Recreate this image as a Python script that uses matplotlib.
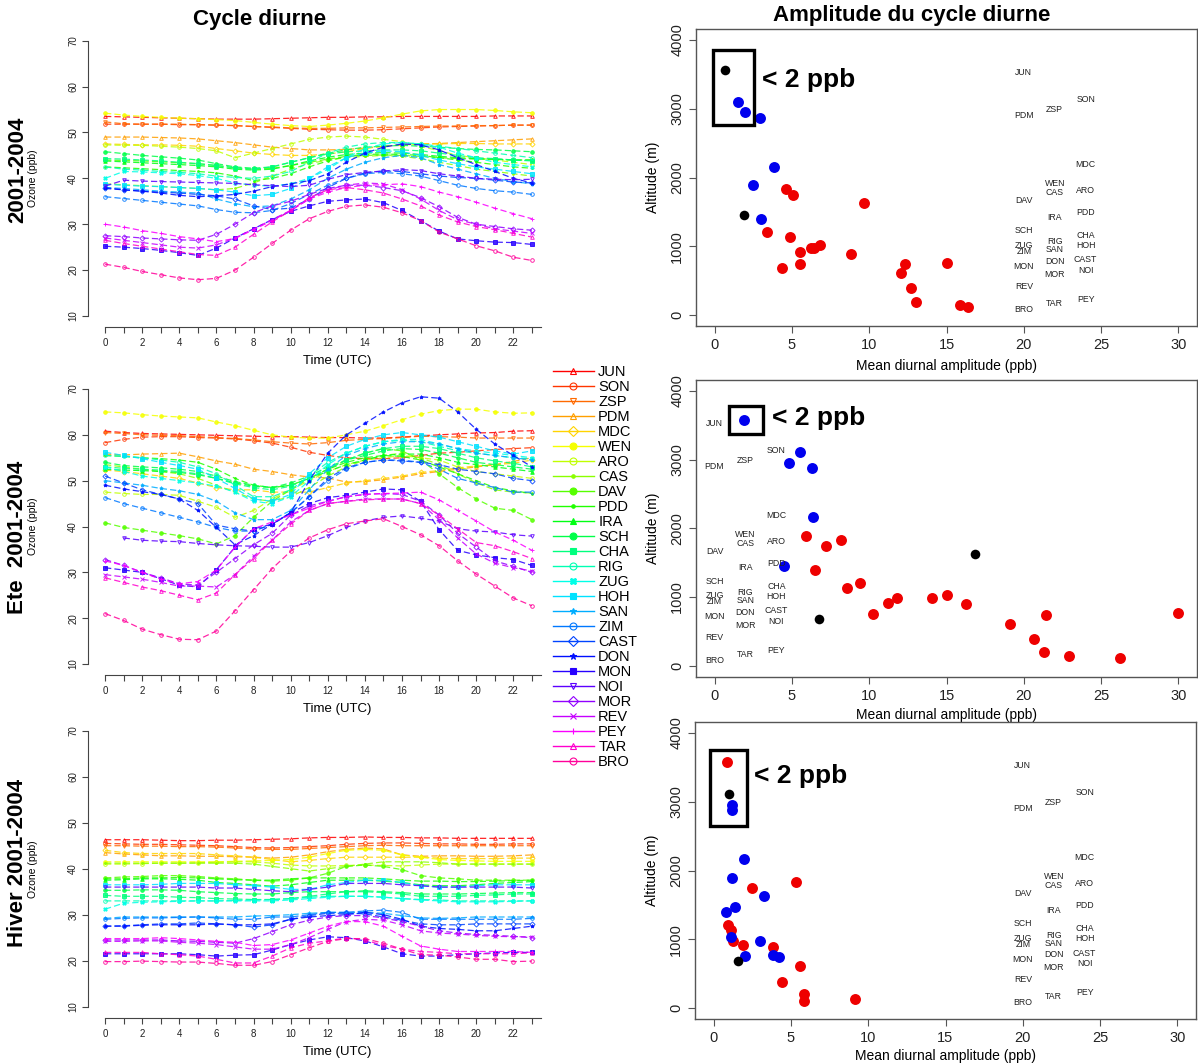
import colorsys
import numpy as np
import matplotlib
matplotlib.use("Agg")
import matplotlib.pyplot as plt
from matplotlib.lines import Line2D
from matplotlib.patches import Rectangle

plt.rcParams['font.family'] = ['Liberation Sans', 'DejaVu Sans']

stations = ['JUN', 'SON', 'ZSP', 'PDM', 'MDC', 'WEN', 'ARO', 'CAS', 'DAV',
            'PDD', 'IRA', 'SCH', 'CHA', 'RIG', 'ZUG', 'HOH', 'SAN', 'ZIM',
            'CAST', 'DON', 'MON', 'NOI', 'MOR', 'REV', 'PEY', 'TAR', 'BRO']
hours = np.arange(24)
nan = np.nan

# mean diurnal cycles (ppb), one row per station, hours 0..23
o3_annual = [
    [53.5,53.4,53.3,53.2,53.1,53.0, 52.9,52.9,52.9,53.0,53.1,53.2, 53.3,53.3,53.4,53.4,53.5,53.5, 53.5,53.5,53.5,53.6,53.6,53.6],
    [51.8,51.8,51.8,51.8,51.7,51.7, 51.6,51.5,51.3,51.1,50.9,50.7, 50.6,50.5,50.5,50.6,50.8,51.0, 51.2,51.3,51.4,51.5,51.6,51.6],
    [52.3,51.9,51.8,51.8,51.8,51.7, 51.6,51.5,51.3,51.2,51.0,50.9, 50.9,51.0,51.0,51.1,51.2,51.3, 51.4,51.4,51.5,51.5,51.6,51.6],
    [49.0,49.0,49.0,48.9,48.8,48.6, 48.2,47.8,47.3,46.8,46.5,46.2, 46.2,46.3,46.6,47.0,47.3,47.5, 47.6,47.8,48.0,48.2,48.4,48.6],
    [47.5,47.4,47.3,47.3,47.2,47.0, 46.5,46.0,45.5,45.2,45.0,45.0, 45.3,45.8,46.5,47.0,47.3,47.5, 47.5,47.6,47.6,47.5,47.5,47.5],
    [54.2,53.8,53.5,53.3,53.1,53.0, 52.8,52.6,52.2,51.8,51.5,51.3, 51.6,52.0,52.5,53.2,54.0,54.7, 55.0,55.0,55.0,54.8,54.5,54.3],
    [47.3,47.2,47.2,47.0,46.8,46.5, 46.0,44.5,45.5,46.5,47.5,48.5, 49.0,49.2,49.0,48.5,48.0,47.0, 46.0,45.0,44.5,44.0,43.5,43.0],
    [38.8,38.6,38.4,38.2,38.0,37.8, 37.5,37.8,39.0,40.5,42.0,43.2, 44.0,44.5,44.8,45.0,44.8,44.3, 43.5,42.8,42.0,41.5,41.0,40.5],
    [44.0,43.9,43.8,43.6,43.4,43.2, 42.8,42.3,42.0,42.2,42.8,43.5, 44.2,44.8,45.0,45.1,45.0,44.8, 44.5,44.3,44.2,44.1,44.0,44.0],
    [42.5,42.3,42.1,41.9,41.7,41.5, 41.2,40.5,39.5,40.0,41.0,42.5, 43.8,44.8,45.2,45.3,45.2,45.0, 44.5,44.0,43.5,43.0,42.5,42.2],
    [43.8,43.6,43.4,43.2,43.0,42.8, 42.5,42.0,41.8,42.0,42.8,43.8, 44.6,45.2,45.5,45.6,45.5,45.2, 44.8,44.5,44.3,44.2,44.0,44.0],
    [45.8,45.4,45.0,44.7,44.4,44.0, 43.2,42.5,42.2,42.5,43.5,44.5, 45.5,46.2,46.8,47.0,47.2,47.0, 46.8,46.5,46.3,46.2,46.0,45.8],
    [44.3,44.2,44.0,43.8,43.5,43.2, 42.8,42.3,42.0,42.5,43.5,44.5, 45.3,45.8,46.0,46.2,46.2,46.0, 45.5,45.0,44.5,44.3,44.0,43.8],
    [42.5,42.0,41.8,41.5,41.3,41.0, 40.5,40.2,40.0,40.5,41.5,43.5, 45.5,46.8,47.5,47.8,47.8,47.5, 47.0,46.5,46.0,45.5,45.0,44.5],
    [40.0,41.5,41.4,41.2,41.0,40.6, 40.0,39.0,38.5,38.3,38.8,40.0, 42.0,44.5,46.5,47.5,47.8,47.5, 46.8,45.5,44.5,43.5,43.0,42.5],
    [38.7,38.5,38.3,38.2,38.0,37.8, 37.5,37.0,36.2,36.5,37.8,40.0, 42.5,44.5,45.5,46.0,45.8,45.0, 44.0,43.2,42.5,42.0,41.5,41.0],
    [38.0,37.8,37.5,37.2,37.0,36.8, 35.5,34.5,33.8,34.0,35.5,37.5, 40.0,42.0,43.5,44.5,45.0,44.5, 43.0,42.0,41.0,40.0,39.3,38.8],
    [36.0,35.6,35.2,34.8,34.4,34.0, 33.2,32.6,32.5,33.0,34.5,36.5, 38.5,40.0,41.0,41.3,41.0,40.5, 39.5,38.5,37.8,37.3,37.0,36.5],
    [38.0,37.5,37.2,37.0,36.8,36.5, 36.2,35.5,34.0,33.2,33.5,35.5, 38.0,40.0,41.2,41.6,41.5,41.0, 40.5,40.2,40.0,39.6,39.2,39.0],
    [37.8,37.5,37.2,36.8,36.3,36.0, 36.2,36.5,37.2,38.2,38.8,39.5, 41.0,43.5,45.5,46.8,47.5,47.3, 46.2,44.5,43.0,41.5,40.0,39.0],
    [25.2,25.0,24.7,24.3,23.8,23.2, 24.8,27.0,29.0,31.0,32.8,34.0, 35.0,35.3,35.5,34.7,33.0,30.8, 28.5,26.8,26.4,26.1,26.0,25.6],
    [38.3,39.6,39.4,39.3,39.2,39.1, 39.0,38.9,38.6,38.4,38.2,38.5, 39.8,40.8,41.3,41.6,41.9,41.7, 41.0,40.5,40.0,39.8,39.7,39.8],
    [27.5,27.3,27.0,26.8,26.6,26.5, 27.8,30.0,32.5,34.0,35.0,36.5, 37.8,38.5,38.5,38.0,37.3,35.8, 33.8,31.5,30.0,29.5,29.0,28.7],
    [27.0,26.5,26.0,25.5,25.0,24.8, 25.5,27.0,29.0,31.0,33.0,35.5, 37.5,38.5,39.0,38.8,37.5,35.5, 33.0,31.0,30.0,29.0,28.5,28.0],
    [30.0,29.4,28.6,28.0,27.3,26.8, 26.2,26.9,28.8,30.8,33.0,35.5, 37.0,38.0,38.5,38.6,38.8,38.2, 37.0,36.0,34.8,33.5,32.3,31.2],
    [26.5,25.8,25.2,24.6,24.0,23.4, 23.2,25.0,27.8,30.5,33.0,35.8, 37.5,38.0,37.5,36.8,35.5,34.0, 32.0,30.5,29.5,28.8,28.0,27.2],
    [21.3,20.6,19.7,19.0,18.3,17.9, 18.2,20.0,22.8,25.8,28.7,31.2, 32.8,33.9,34.2,33.7,32.5,30.8, 28.3,26.8,25.3,24.2,22.8,22.1],
]

o3_summer = [
    [60.8,60.5,60.3,60.2,60.1,60.0, 59.9,59.8,59.7,59.6,59.6,59.5, 59.4,59.4,59.3,59.3,59.5,59.8, 60.0,60.2,60.4,60.5,60.8,60.9],
    [58.3,59.0,59.5,59.6,59.6,59.4, 59.3,59.1,58.7,58.2,57.3,56.2, 55.5,55.0,54.8,54.8,55.0,55.5, 56.0,56.2,56.5,56.8,57.0,57.2],
    [60.5,60.3,60.0,59.9,59.8,59.6, 59.4,59.2,58.9,58.5,58.2,58.0, 58.3,58.8,59.0,59.2,59.4,59.7, 59.6,59.5,59.3,59.3,59.3,59.3],
    [55.8,55.6,55.8,55.9,56.0,55.2, 54.3,53.6,52.5,52.0,51.3,50.8, 50.6,49.7,49.8,50.2,50.8,51.5, 52.0,52.5,53.0,53.5,54.2,55.0],
    [52.3,52.0,51.5,51.0,50.5,49.5, 48.5,48.0,48.0,47.5,47.5,47.5, 48.5,49.5,50.0,50.5,51.0,51.8, 52.2,52.8,53.2,53.5,53.8,54.5],
    [65.0,64.8,64.4,64.1,63.9,63.7, 62.8,62.0,61.0,60.0,59.5,59.3, 59.3,60.0,60.8,62.0,63.3,64.5, 65.3,65.6,65.6,65.0,64.7,64.8],
    [47.5,47.2,47.0,47.0,46.8,45.5, 44.2,42.0,43.5,46.0,48.0,50.0, 52.0,53.5,54.5,55.0,55.5,55.0, 54.5,53.0,52.0,51.5,51.0,50.5],
    [53.5,53.0,52.5,52.0,51.5,50.5, 49.0,47.5,46.0,45.5,46.5,48.5, 51.0,53.0,54.5,55.5,56.0,55.0, 53.5,51.5,49.5,48.0,47.5,47.3],
    [40.8,39.8,39.2,38.6,38.0,37.3, 36.2,38.0,42.0,45.5,48.0,50.5, 52.5,54.5,56.0,57.0,56.5,54.5, 51.5,48.5,46.0,44.0,43.5,41.5],
    [55.5,55.3,55.0,54.8,54.5,54.0, 52.5,50.5,49.0,48.5,49.0,50.5, 52.5,54.0,55.0,55.5,55.3,54.5, 53.0,51.5,50.0,48.5,47.8,47.2],
    [52.5,52.3,52.2,52.0,51.8,51.3, 50.5,49.5,48.8,48.5,49.0,50.5, 52.0,53.5,54.5,55.5,55.8,55.8, 55.0,54.0,53.5,53.0,52.5,52.0],
    [54.0,53.3,53.0,52.8,52.5,52.0, 51.0,49.8,49.0,48.5,49.5,51.0, 53.0,54.5,55.5,56.5,57.0,56.8, 56.0,55.0,54.0,53.5,53.0,52.5],
    [53.0,52.7,52.5,52.3,52.0,51.5, 50.5,49.3,48.5,48.0,48.8,50.5, 52.5,54.5,56.0,57.0,57.5,57.5, 57.0,56.0,55.0,54.3,53.8,53.0],
    [55.5,55.3,55.0,54.5,54.0,53.0, 51.5,49.0,46.5,46.5,48.0,51.0, 54.0,56.0,57.5,58.5,58.8,58.5, 57.5,56.5,56.0,55.5,55.0,54.8],
    [53.0,52.0,51.0,50.5,50.0,49.5, 48.8,47.5,45.5,45.0,46.5,50.0, 53.5,56.0,57.5,58.5,59.0,59.0, 58.0,57.0,56.5,56.0,55.5,55.0],
    [56.2,55.5,54.8,54.0,53.3,52.5, 50.5,48.3,46.0,45.5,47.0,51.5, 55.0,57.5,59.0,60.0,60.5,60.0, 59.5,58.5,57.5,56.5,55.8,56.5],
    [50.0,49.5,49.0,48.3,47.8,47.0, 45.5,43.0,41.5,41.5,43.5,48.0, 52.5,55.5,57.0,58.0,58.5,58.5, 58.0,57.0,56.0,55.5,55.0,54.5],
    [46.3,45.0,44.0,43.0,42.0,41.0, 39.8,39.0,39.0,40.5,43.0,46.5, 50.0,52.5,54.0,54.5,54.5,54.0, 52.5,50.5,49.5,48.5,47.5,47.5],
    [51.0,49.5,48.0,47.0,46.0,45.0, 40.3,39.5,39.0,40.5,43.0,46.5, 50.5,52.8,54.0,54.5,54.3,54.0, 53.5,52.5,52.0,51.5,50.5,50.0],
    [49.0,48.2,47.6,47.0,46.0,43.5, 39.8,36.0,38.0,40.5,43.0,50.0, 56.0,60.0,62.5,65.0,67.0,68.3, 68.0,65.0,61.2,58.0,55.5,53.0],
    [31.0,30.5,30.0,28.6,27.2,26.8, 30.6,35.5,39.5,40.5,43.0,45.0, 46.3,46.8,47.5,48.2,48.0,45.5, 39.3,34.8,33.8,33.2,32.8,31.5],
    [nan, 37.5,37.0,36.8,36.7,36.3, 36.0,35.8,35.7,35.5,35.5,36.5, 38.0,39.8,41.2,42.0,42.3,41.8, 41.2,39.5,39.0,38.8,38.2,37.9],
    [32.8,31.5,30.0,28.8,27.5,27.2, 30.0,33.0,36.0,38.5,42.5,44.5, 45.5,46.5,47.0,47.2,47.0,45.5, 42.5,38.5,35.5,32.5,31.3,30.0],
    [29.5,29.0,28.5,27.8,27.0,27.0, 26.8,29.5,33.5,37.0,41.0,43.5, 45.0,45.5,46.0,46.0,46.0,45.0, 41.5,37.5,34.0,32.0,31.0,30.3],
    [32.5,31.5,30.0,28.5,27.5,28.0, 30.5,35.5,39.5,41.0,42.5,44.0, 45.5,46.5,47.0,47.2,47.3,47.5, 45.8,43.5,41.2,38.8,37.0,34.8],
    [28.8,27.8,26.8,26.0,25.0,24.0, 25.5,29.5,33.0,37.0,40.5,43.5, 45.0,45.5,45.8,46.0,46.0,45.0, 42.5,39.5,36.5,35.8,34.5,33.0],
    [21.0,19.5,17.6,16.4,15.4,15.3, 17.2,21.6,26.2,30.8,34.6,37.5, 39.3,40.6,41.2,41.7,40.0,38.2, 35.8,32.5,29.6,27.0,24.4,22.7],
]

o3_winter = [
    [46.3,46.3,46.3,46.2,46.1,46.1, 46.2,46.2,46.3,46.4,46.5,46.7, 46.8,46.8,46.9,46.8,46.8,46.7, 46.7,46.6,46.6,46.6,46.6,46.6],
    [45.5,45.4,45.3,45.3,45.2,45.1, 45.0,44.8,44.6,44.5,44.6,44.8, 45.0,45.3,45.5,45.6,45.6,45.5, 45.4,45.4,45.3,45.3,45.4,45.4],
    [45.0,45.0,44.9,44.9,44.8,44.8, 44.7,44.5,44.3,44.2,44.2,44.4, 44.6,44.8,45.0,45.1,45.0,45.0, 45.0,45.0,45.0,45.0,45.0,45.0],
    [43.5,43.2,43.0,42.8,42.8,42.7, 42.7,42.6,42.5,42.3,42.5,43.0, 43.7,44.2,44.5,44.3,43.0,42.7, 42.8,42.8,42.7,42.7,42.8,43.0],
    [44.0,43.5,43.3,43.3,43.3,43.3, 43.0,42.8,42.5,42.0,41.5,41.8, 42.2,42.5,42.5,42.5,42.5,42.5, 42.3,42.2,42.2,42.2,42.3,42.3],
    [41.5,41.5,41.5,41.5,41.5,41.5, 41.5,41.6,41.7,41.8,42.0,42.5, 43.3,44.0,44.2,44.0,43.0,42.5, 42.0,41.8,41.7,41.6,41.6,41.6],
    [41.0,41.0,41.1,41.2,41.2,41.3, 41.4,41.5,41.5,41.2,40.8,40.6, 40.6,40.7,40.8,40.7,40.6,40.8, 41.0,41.0,41.0,41.0,41.0,41.0],
    [41.2,41.2,41.2,41.2,41.2,41.2, 41.2,41.2,41.0,40.5,40.0,39.5, 40.0,40.5,41.0,41.5,41.5,41.5, 41.3,41.0,41.0,41.0,41.0,41.0],
    [38.0,38.2,38.3,38.5,38.5,38.3, 38.0,37.8,37.5,37.3,37.5,38.0, 39.0,40.5,40.8,40.5,39.8,38.5, 38.0,37.8,37.5,37.5,37.5,37.5],
    [37.8,37.8,38.0,38.0,38.1,38.0, 37.8,37.6,37.5,37.5,37.8,38.0, 38.0,38.0,38.0,37.8,37.5,37.3, 37.3,37.2,37.2,37.3,37.4,37.5],
    [37.5,37.6,37.8,37.8,37.7,37.5, 37.0,36.8,36.5,36.2,36.5,37.0, 37.5,37.5,37.5,37.3,37.0,36.5, 36.3,36.3,36.5,36.8,37.0,37.2],
    [35.3,35.3,35.4,35.4,35.3,35.0, 34.8,34.6,34.5,34.5,34.8,35.0, 35.0,35.0,35.2,35.0,34.8,34.5, 34.5,34.5,34.6,34.7,34.8,34.8],
    [34.2,34.0,34.0,34.0,33.8,33.7, 33.5,33.4,33.3,33.3,33.5,34.0, 34.5,35.0,35.0,34.8,34.5,34.0, 34.0,34.0,34.2,34.3,34.5,34.5],
    [33.0,33.0,33.0,33.0,33.0,33.0, 33.0,33.1,33.2,33.3,33.5,33.8, 34.0,34.0,34.0,33.8,33.5,33.3, 33.2,33.0,33.0,33.0,33.0,33.0],
    [31.2,32.5,32.7,32.8,32.9,33.0, 33.0,33.0,33.0,33.0,33.2,33.5, 33.8,34.0,34.0,33.8,33.5,33.2, 33.0,32.8,32.8,32.8,32.9,33.0],
    [36.5,36.5,36.5,36.6,36.8,36.8, 36.8,36.5,36.3,36.0,35.5,35.5, 36.5,37.0,37.5,37.5,37.0,36.3, 36.0,36.0,36.3,36.5,36.5,36.5],
    [29.2,29.5,29.5,29.5,29.5,29.5, 29.5,29.5,29.7,29.8,30.0,30.3, 30.5,30.5,30.5,30.3,29.8,29.3, 29.2,29.3,29.5,29.5,29.5,29.5],
    [29.0,29.2,29.3,29.3,29.4,29.5, 29.3,29.0,29.0,29.5,29.5,30.0, 30.5,30.5,30.8,31.0,30.5,29.0, 29.0,29.0,29.0,29.0,29.0,29.2],
    [27.5,27.6,27.8,28.0,28.0,28.2, 28.0,27.8,27.3,27.8,29.0,29.8, 30.3,30.3,30.2,29.5,28.8,28.0, 27.8,27.8,28.0,28.0,28.0,28.0],
    [27.5,27.5,27.7,27.8,27.8,27.8, 28.0,27.8,27.8,28.0,29.0,29.5, 29.8,30.0,30.5,30.0,29.0,27.5, 27.0,26.8,26.5,26.5,27.0,27.5],
    [21.5,21.5,21.5,21.5,21.5,21.3, 21.0,21.2,21.3,22.3,23.5,24.5, 25.2,25.0,24.3,23.0,21.5,21.0, 21.0,21.3,21.5,21.7,21.8,21.8],
    [36.0,36.0,36.0,36.0,36.0,36.0, 35.8,35.8,35.5,35.2,35.0,35.5, 36.0,36.8,36.8,36.8,36.5,36.3, 36.0,36.0,36.0,36.0,36.0,35.8],
    [24.5,24.5,24.5,24.5,24.3,24.2, 24.0,23.8,24.8,26.3,27.8,28.8, 29.5,29.8,29.8,29.3,28.5,27.5, 26.5,26.0,25.7,25.5,25.3,25.0],
    [24.2,24.2,24.3,24.3,24.0,23.8, 23.5,23.0,22.5,22.5,23.5,25.0, 26.8,28.5,29.0,28.8,27.8,26.5, 26.0,25.8,25.5,25.3,25.2,25.2],
    [24.8,24.8,24.8,25.0,24.8,24.5, 24.2,24.0,23.3,23.5,24.5,26.0, 27.5,28.5,28.5,27.5,25.3,23.2, 22.5,22.0,22.0,22.0,22.0,21.8],
    [21.8,21.8,21.8,21.5,21.3,21.0, 20.3,19.5,19.5,21.0,22.8,23.8, 24.3,25.0,24.5,23.3,22.5,22.0, 21.8,21.5,21.5,21.5,21.5,21.7],
    [19.8,19.8,19.9,19.8,19.7,19.7, 19.4,19.0,19.0,19.8,21.3,22.8, 24.2,24.8,24.8,23.8,22.5,21.3, 21.2,20.8,20.3,20.3,19.8,19.9],
]

# amplitude vs altitude scatter (ppb, m, group colour)
amp_annual = [0.69, 1.50, 2.00, 2.92, 3.84, 2.51, 4.65, 5.08, 9.66, 1.89, 2.99, 3.36, 4.85, 6.21,
              6.40, 6.83, 5.50, 8.81, 5.50, 4.39, 12.31, 12.05, 15.0, 12.72, 13.04, 15.85, 16.40]
alt_annual = [3570, 3101, 2952, 2870, 2159, 1884, 1836, 1744, 1633, 1459, 1391, 1203, 1130, 981,
              981, 1024, 913, 894, 749, 681, 739, 613, 763, 386, 193, 140, 111]
grp_annual = ['k', 'b', 'b', 'b', 'b', 'b', 'r', 'r', 'r', 'k', 'b', 'r', 'r', 'r',
              'r', 'r', 'r', 'r', 'r', 'r', 'r', 'r', 'r', 'r', 'r', 'r', 'r']

amp_summer = [1.89, 5.53, 4.82, 6.31, 6.36, 5.90, 7.21, 8.20, 16.84, 4.47, 6.52, 9.38, 8.59, 11.24,
              11.8, 14.08, 15.0, 16.27, 10.25, 6.77, 19.1, 21.45, 29.98, 20.67, 21.29, 22.93, 26.22]
alt_summer = [3575, 3106, 2952, 2874, 2164, 1889, 1749, 1836, 1633, 1459, 1396, 1208, 1130, 918,
              981, 986, 1024, 894, 749, 681, 614, 739, 763, 386, 198, 140, 111]
grp_summer = ['b', 'b', 'b', 'b', 'b', 'r', 'r', 'r', 'k', 'b', 'r', 'r', 'r', 'r',
              'r', 'r', 'r', 'r', 'r', 'k', 'r', 'r', 'r', 'r', 'r', 'r', 'r']

amp_winter = [0.90, 0.97, 1.20, 1.20, 1.98, 1.18, 2.51, 5.35, 3.27, 1.41, 0.83, 0.94, 1.15, 1.13,
              1.24, 3.02, 1.91, 3.82, 2.03, 3.87, 4.24, 1.57, 5.62, 4.40, 5.88, 5.88, 9.12]
alt_winter = [3580, 3106, 2957, 2874, 2164, 1889, 1749, 1836, 1633, 1464, 1396, 1208, 1140, 1029,
              981, 981, 913, 894, 754, 768, 744, 681, 618, 386, 203, 111, 140]
grp_winter = ['r', 'k', 'b', 'b', 'b', 'b', 'r', 'r', 'b', 'b', 'b', 'r', 'r', 'b',
              'r', 'b', 'r', 'r', 'b', 'b', 'b', 'k', 'r', 'r', 'r', 'r', 'r']

# station name labels: altitude and column (0, 1, 2)
label_alt = [3525, 3132, 2985, 2900, 2188, 1915, 1805, 1780, 1660, 1488, 1425, 1230, 1157, 1063,
             1018, 1010, 947, 928, 800, 780, 710, 650, 585, 413, 225, 169, 77]
label_col = [0, 2, 1, 0, 2, 1, 2, 1, 0, 2, 1, 0, 2, 1, 0, 2, 1, 0, 2, 1, 0, 2, 1, 0, 2, 1, 0]

# "< 2 ppb" boxes (x0, x1, y0, y1) and text anchor
box_annual = (-0.12, 2.53, 2763, 3855)
box_summer = (0.92, 3.16, 3372, 3778)
box_winter = (-0.25, 2.17, 2647, 3754)
note_xy = [(3.04, 3420), (3.69, 3613), (2.6, 3377)]

markers = ['^', 'o', 'v', '^', 'D', 'o', 'o', '.', 'o', '.', '^', 'o', 's', 'o',
           'X', 's', '*', 'o', 'D', '*', 's', 'v', 'D', 'x', '+', '^', 'o']
filled = [False, False, False, False, False, True, False, True, True, True, True, True, True, False,
          True, True, True, False, False, True, True, False, False, True, True, False, False]
colors = [colorsys.hsv_to_rgb(h, 1.0, 1.0) for h in np.linspace(0, 0.9, len(stations))]
grp_color = {'r': '#ee0000', 'b': '#0000ee', 'k': 'black'}

W, H = 1198, 1063
fig = plt.figure(figsize=(W / 100, H / 100), dpi=100)


def fbox(x0, x1, ytop, ybot):
    return [x0 / W, 1 - ybot / H, (x1 - x0) / W, (ybot - ytop) / H]


def cycle_panel(rect, data):
    ax = fig.add_axes(rect)
    for i, row in enumerate(data):
        mfc = colors[i] if filled[i] else 'none'
        ax.plot(hours, np.array(row, dtype=float), color=colors[i], lw=0.9, alpha=0.85,
                linestyle=(0, (5, 2.5)), marker=markers[i], ms=2.6,
                mfc=mfc, mec=colors[i], mew=0.7)
    ax.set_xlim(-0.92, 23.92)
    ax.set_ylim(7.6, 72.4)
    for s in ['top', 'right']:
        ax.spines[s].set_visible(False)
    ax.spines['left'].set_bounds(10, 70)
    ax.spines['bottom'].set_bounds(0, 23.5)
    ax.spines['left'].set_color('#444444')
    ax.spines['bottom'].set_color('#444444')
    ax.set_xticks(hours)
    ax.set_xticklabels([str(h) if h % 2 == 0 else '' for h in hours])
    ax.set_yticks(np.arange(10, 71, 10))
    ax.tick_params(axis='both', labelsize=7, length=4, width=0.8, colors='#444444',
                   labelcolor='#222222')
    ax.tick_params(axis='x', pad=4)
    ax.tick_params(axis='y', labelrotation=90, pad=3)
    for t in ax.get_yticklabels():
        t.set_va('center')
    ax.set_xlabel('Time (UTC)', fontsize=9.5)
    ax.xaxis.set_label_coords(0.54, -0.095)
    ax.set_ylabel('Ozone (ppb)', fontsize=7.5)
    ax.yaxis.set_label_coords(-0.108, 0.5)
    return ax


def amp_panel(rect, amp, alt, grp, box, note, col_x, xlab_y=-0.112):
    ax = fig.add_axes(rect)
    for g in ['r', 'b', 'k']:
        xs = [a for a, c in zip(amp, grp) if c == g]
        ys = [h for h, c in zip(alt, grp) if c == g]
        ax.scatter(xs, ys, s=62 if g != 'k' else 48, color=grp_color[g], zorder=3,
                   linewidths=0)
    for name, y, c in zip(stations, label_alt, label_col):
        ax.text(col_x[c], y, name, fontsize=6.3, ha='center', va='center', color='#222222')
    x0, x1, y0, y1 = box
    ax.add_patch(Rectangle((x0, y0), x1 - x0, y1 - y0, fill=False, lw=2.4, ec='black', zorder=4))
    ax.text(note[0], note[1], '< 2 ppb', fontsize=19, fontweight='bold', ha='left', va='center')
    ax.set_xlim(-1.2, 31.2)
    ax.set_ylim(-160, 4160)
    ax.set_xticks(np.arange(0, 31, 5))
    ax.set_yticks(np.arange(0, 4001, 1000))
    for s in ax.spines.values():
        s.set_color('#555555')
        s.set_linewidth(1.0)
    ax.tick_params(axis='both', labelsize=10.5, length=5, width=0.8, colors='#555555',
                   labelcolor='#222222')
    ax.tick_params(axis='y', labelrotation=90)
    for t in ax.get_yticklabels():
        t.set_va('center')
    ax.set_xlabel('Mean diurnal amplitude (ppb)', fontsize=10)
    ax.xaxis.set_label_coords(0.5, xlab_y)
    ax.set_ylabel('Altitude (m)', fontsize=10)
    ax.yaxis.set_label_coords(-0.072, 0.5)
    return ax


cycle_panel(fbox(88, 549, 29.7, 327), o3_annual)
cycle_panel(fbox(88, 549, 378, 675), o3_summer)
cycle_panel(fbox(88, 549, 719.7, 1017.7), o3_winter)

amp_panel(fbox(696, 1197, 29, 326), amp_annual, alt_annual, grp_annual, box_annual, note_xy[0], [20, 22, 24])
amp_panel(fbox(696, 1197, 380, 676.7), amp_summer, alt_summer, grp_summer, box_summer, note_xy[1], [0, 2, 4],
          xlab_y=-0.105)
amp_panel(fbox(695, 1196, 721.7, 1019.3), amp_winter, alt_winter, grp_winter, box_winter, note_xy[2],
          [20, 22, 24], xlab_y=-0.1)

handles = [Line2D([], [], color=colors[i], lw=1.0, marker=markers[i], ms=5,
                  mfc=colors[i] if filled[i] else 'none', mec=colors[i], mew=0.8)
           for i in range(len(stations))]
fig.legend(handles, stations, loc='upper left', bbox_to_anchor=(553 / W, 1 - 365 / H),
           frameon=False, fontsize=10.5, handlelength=2.8, handletextpad=0.3,
           labelspacing=0.068, borderaxespad=0, borderpad=0)

fig.text(260 / W, 1 - 20 / H, 'Cycle diurne', fontsize=16, fontweight='bold', ha='center', va='center')
fig.text(912 / W, 1 - 15 / H, 'Amplitude du cycle diurne', fontsize=16, fontweight='bold',
         ha='center', va='center')
fig.text(18 / W, 1 - 170 / H, '2001-2004', fontsize=16, fontweight='bold', rotation=90,
         ha='center', va='center')
fig.text(18 / W, 1 - 537 / H, 'Ete  2001-2004', fontsize=16, fontweight='bold', rotation=90,
         ha='center', va='center')
fig.text(18 / W, 1 - 863 / H, 'Hiver 2001-2004', fontsize=16, fontweight='bold', rotation=90,
         ha='center', va='center')

fig.savefig('out.png', dpi=100, facecolor='white')
